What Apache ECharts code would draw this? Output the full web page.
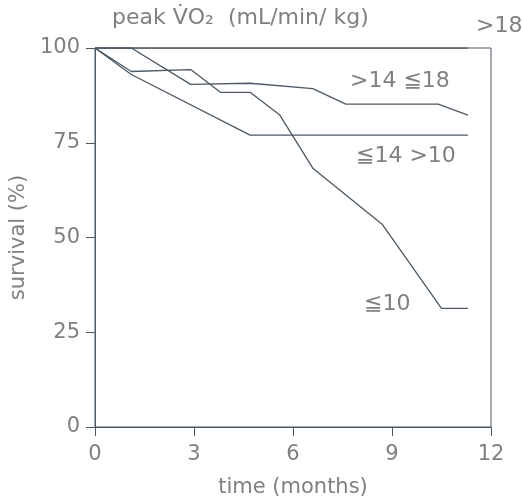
<!DOCTYPE html>
<html>
<head>
<meta charset="utf-8">
<script src="https://cdn.jsdelivr.net/npm/echarts@6/dist/echarts.min.js"></script>
<style>
  html, body { margin: 0; padding: 0; background: #fff; }
  #chart { width: 522px; height: 498px; }
</style>
</head>
<body>
<div id="chart"></div>
<script>
// survival curves by peak VO2 group: [month, survival %]
const over18 = [[0, 100], [11.3, 100]];
const over14to18 = [[0, 100], [1.1, 100], [2.9, 90.4], [4.7, 90.7], [6.6, 89.3], [7.6, 85.2], [10.4, 85.2], [11.3, 82.3]];
const over10to14 = [[0, 100], [1.1, 93], [4.7, 77], [11.3, 77]];
const upTo10 = [[0, 100], [1.1, 93.8], [2.9, 94.3], [3.8, 88.3], [4.7, 88.3], [5.6, 82.3], [6.6, 68.3], [8.7, 53.5], [10.5, 31.3], [11.3, 31.3]];
const xTicks = [0, 3, 6, 9, 12];
const yTicks = [0, 25, 50, 75, 100];

const lineColor = "#4d5862";
const textColor = "#808080";
const font = "'DejaVu Sans', 'Noto Sans CJK JP', sans-serif";

const chart = echarts.init(document.getElementById("chart"));

function curve(data) {
  return {
    type: "line",
    data: data,
    symbol: "none",
    lineStyle: { color: lineColor, width: 1.3 },
    animation: false,
  };
}

function note(text, x, y, size) {
  return {
    type: "text",
    left: x,
    top: y,
    style: {
      text: text,
      fill: textColor,
      font: (size || 22) + "px " + font,
    },
  };
}

chart.setOption({
  animation: false,
  grid: {
    left: 95,
    right: 31,
    top: 48,
    bottom: 71,
    outerBoundsMode: "none",
    containLabel: false,
    show: true,
    borderColor: lineColor,
    borderWidth: 1,
  },
  xAxis: {
    type: "value",
    min: 0,
    max: 12,
    interval: 3,
    name: "time (months)",
    nameLocation: "middle",
    nameGap: 50,
    nameTextStyle: { color: textColor, fontSize: 21, fontFamily: font },
    axisLine: { show: true, lineStyle: { color: lineColor } },
    axisTick: { show: true, length: 9, lineStyle: { color: lineColor } },
    axisLabel: {
      color: textColor,
      fontSize: 21,
      fontFamily: font,
      margin: 17,
      formatter: (v) => (xTicks.includes(v) ? String(v) : ""),
    },
    splitLine: { show: false },
  },
  yAxis: {
    type: "value",
    min: 0,
    max: 100,
    interval: 25,
    name: "survival (%)",
    nameLocation: "middle",
    nameGap: 66,
    nameTextStyle: { color: textColor, fontSize: 21, fontFamily: font },
    axisLine: { show: true, lineStyle: { color: lineColor } },
    axisTick: { show: true, length: 9, lineStyle: { color: lineColor } },
    axisLabel: {
      color: textColor,
      fontSize: 21,
      fontFamily: font,
      margin: 15,
      formatter: (v) => (yTicks.includes(v) ? String(v) : ""),
    },
    splitLine: { show: false },
  },
  graphic: [
    note("peak V\u0307O\u2082  (mL/min/ kg)", 112, 7),
    note(">18", 476, 15),
    note(">14 \u226618", 350, 70),
    note("\u226614 >10", 356, 145),
    note("\u226610", 364, 293),
  ],
  series: [curve(over18), curve(over14to18), curve(over10to14), curve(upTo10)],
});
</script>
</body>
</html>
